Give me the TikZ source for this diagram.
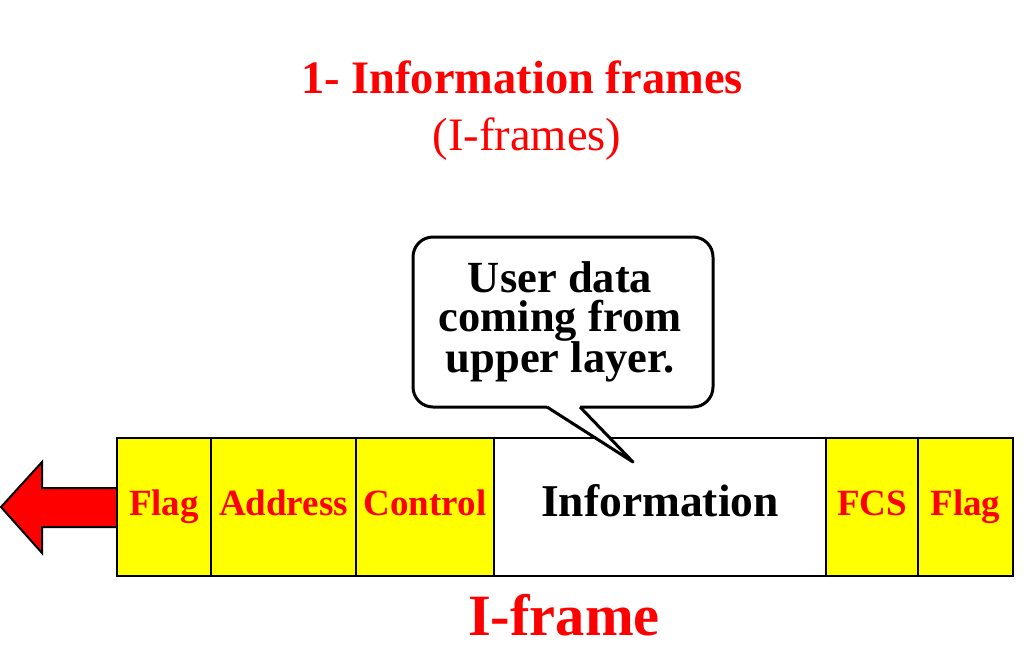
\documentclass[tikz,border=0pt]{standalone}
\usepackage{fontspec}
\setmainfont{Liberation Serif}
\definecolor{pptred}{HTML}{FF0000}
\definecolor{pptyellow}{HTML}{FFFF00}
\tikzset{
  cell/.style={draw=black, line width=2pt, fill=pptyellow, minimum height=138pt,
    inner sep=0pt, text=pptred, font=\fontsize{37}{40}\selectfont\bfseries,
    text height=24pt, text depth=8pt},
  infocell/.style={cell, fill=white, text=black, font=\fontsize{45.5}{48}\selectfont\bfseries,
    text height=30pt, text depth=12pt},
  calloutbody/.style={draw=black, line width=3pt, fill=white, rounded corners=20pt,
    minimum width=300pt, minimum height=170pt, inner sep=0pt},
  callouttext/.style={inner sep=0pt, align=center, font=\fontsize{44.5}{39}\selectfont\bfseries},
  calloutline/.style={draw=black, line width=3pt, line join=round},
  bigarrow/.style={draw=black, line width=2pt, fill=pptred, line join=miter},
  title/.style={text=pptred, inner sep=0pt, anchor=base}
}
\begin{document}
\begin{tikzpicture}[x=1pt,y=-1pt]
\useasboundingbox (0,0) rectangle (1032,651);
% titles
\node[title, font=\fontsize{46.5}{50}\selectfont\bfseries] (t1) at (522,93) {1- Information frames};
\node[title, font=\fontsize{46.5}{50}\selectfont] (t2) at (527,150) {(I-frames)};
% arrow
\coordinate (ashaft) at (117,507);
\draw[bigarrow] (117,488) -- (42,488) -- (42,462) -- (1,507) -- (42,553) -- (42,527) -- (117,527) -- cycle;
% frame cells
\node[cell, minimum width=94pt]  (flag1) at (164,507) {Flag};
\node[cell, minimum width=145pt] (addr)  at (283.5,507) {Address};
\node[cell, minimum width=138pt] (ctrl)  at (425,507) {Control};
\node[infocell, minimum width=332pt] (info) at (660,507) {Information};
\node[cell, minimum width=92pt]  (fcs)   at (872,507) {FCS};
\node[cell, minimum width=95pt]  (flag2) at (965.5,507) {Flag};
% callout
\node[calloutbody] (bubble) at (563,322) {};
\node[callouttext] (btext) at (560,322) {User data\\coming from\\upper layer.};
\coordinate (tipbase1) at (547,407);
\coordinate (tipbase2) at (580,407);
\coordinate (tip) at (633,462);
\fill[white] (tipbase1) -- (tip) -- (tipbase2) -- (580,401) -- (547,401) -- cycle;
\draw[calloutline] (tipbase1) -- (tip) -- (tipbase2);
% caption
\node[title, font=\fontsize{58.5}{60}\selectfont\bfseries] (cap) at (564,635) {I-frame};
\end{tikzpicture}
\end{document}
